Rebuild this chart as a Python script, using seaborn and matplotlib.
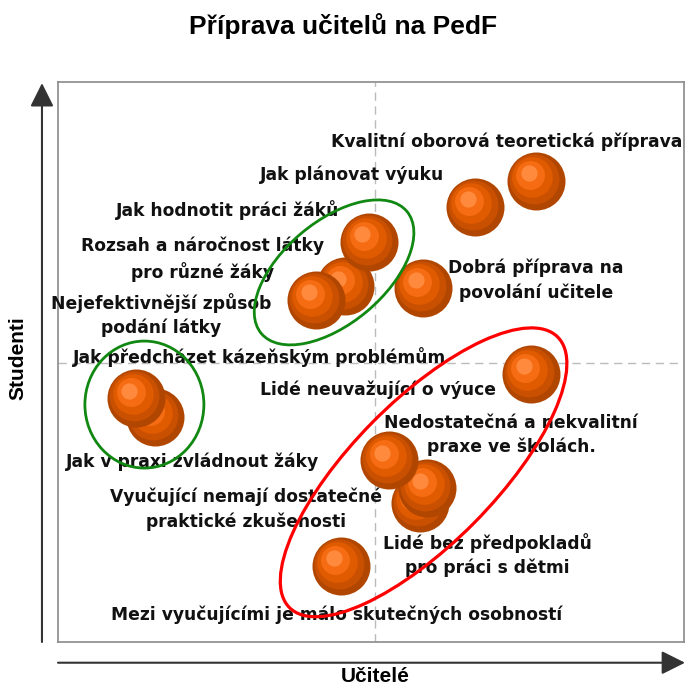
import matplotlib
matplotlib.use("Agg")
import matplotlib.pyplot as plt
from matplotlib.patches import Ellipse
from matplotlib.transforms import ScaledTranslation
import numpy as np
import pandas as pd
import seaborn as sns

# data (scores 0-100, x = teachers, y = students)
labels = [
    "Kvalitní oborová teoretická příprava",
    "Jak plánovat výuku",
    "Jak hodnotit práci žáků",
    "Rozsah a náročnost látky\npro různé žáky",
    "Nejefektivnější způsob\npodání látky",
    "Dobrá příprava na\npovolání učitele",
    "Jak předcházet kázeňským problémům",
    "Jak v praxi zvládnout žáky",
    "Lidé neuvažující o výuce",
    "Nedostatečná a nekvalitní\npraxe ve školách.",
    "Vyučující nemají dostatečné\npraktické zkušenosti",
    "Lidé bez předpokladů\npro práci s dětmi",
    "Mezi vyučujícími je málo skutečných osobností",
]
ucitele = [76.3, 66.6, 49.7, 45.9, 41.2, 58.3, 12.5, 15.5, 75.5, 52.9, 57.8, 59.0, 45.2]
studenti = [82.4, 77.7, 71.5, 63.5, 61.1, 63.3, 43.5, 40.1, 47.9, 32.5, 24.8, 27.5, 13.6]
x_mid = 50.6
y_mid = 49.8

df = pd.DataFrame({"label": labels, "ucitele": ucitele, "studenti": studenti})

# layout: label offsets in pixels, drawing order of the balls
label_offsets = [(-29, 39), (-123, 32), (-141, 32), (-143, 27), (-155, -15),
                 (113, 7), (123, 41), (37, -44), (-153, -16), (122, 25),
                 (-174, -6), (60, -67), (-4, -49)]
draw_order = [7, 6, 10, 11, 3, 2, 4, 0, 1, 5, 8, 9, 12]

# ball layers: (radius fraction, dx px, dy px, colour)
R = 29
layers = [(1.0, 0, 0, "#B04600"), (0.86, -2, 2, "#C95000"),
          (0.70, -3.5, 4, "#E05A00"), (0.50, -5.5, 6, "#F56C12"),
          (0.28, -7, 7.5, "#FF8A3D")]

sns.set_style("white")
plt.rcParams["font.family"] = ["DejaVu Sans"]
plt.rcParams["text.color"] = "black"
plt.rcParams["axes.labelcolor"] = "black"

fig = plt.figure(figsize=(6.85, 6.88), dpi=100)
ax = fig.add_axes([58 / 685, 46 / 688, 626 / 685, 560 / 688])
ax.set_xlim(0, 100)
ax.set_ylim(0, 100)
ax.set_xticks([])
ax.set_yticks([])
for s in ax.spines.values():
    s.set_color("#8A8A8A")
    s.set_linewidth(1.2)

ax.axvline(x_mid, color="#BBBBBB", lw=1, dashes=(6, 4), zorder=1)
ax.axhline(y_mid, color="#BBBBBB", lw=1, dashes=(6, 4), zorder=1)

z = 3
for i in draw_order:
    row = df.iloc[[i]]
    for frac, dx, dy, col in layers:
        d_pt = 2 * R * frac * 72 / 100
        tr = ax.transData + ScaledTranslation(dx / 100, dy / 100, fig.dpi_scale_trans)
        sns.scatterplot(data=row, x="ucitele", y="studenti", s=d_pt ** 2, color=col,
                        linewidth=0, ax=ax, legend=False, transform=tr, zorder=z)
        z += 0.01

for i, lab in enumerate(labels):
    ax.annotate(lab, xy=(ucitele[i], studenti[i]), xytext=label_offsets[i],
                textcoords="offset pixels", ha="center", va="center",
                fontsize=12.3, fontweight="bold", color="#111111",
                linespacing=1.42, zorder=4)

# ellipses: (centre x, centre y, width px, height px, angle, colour, lw)
ellipses = [(44.1, 66.0, 190, 102, 40, "#118811", 2.0),
            (13.8, 42.4, 119, 127, 0, "#118811", 2.0),
            (58.4, 30.3, 381, 143, 45.3, "#FF0000", 2.3)]
for cx, cy, w, h, ang, col, lw in ellipses:
    tr = fig.dpi_scale_trans + ScaledTranslation(cx, cy, ax.transData)
    ax.add_patch(Ellipse((0, 0), w / 100, h / 100, angle=ang, transform=tr,
                         fill=False, edgecolor=col, lw=lw, zorder=5))

arrow = dict(arrowstyle="-|>,head_length=0.9,head_width=0.45", mutation_scale=16,
             color="#333333", lw=1.5, shrinkA=0, shrinkB=0)
ax.annotate("", xy=(-0.0256, 0.998), xytext=(-0.0256, 0.0), xycoords="axes fraction",
            arrowprops=arrow, annotation_clip=False)
ax.annotate("", xy=(1.0016, -0.037), xytext=(0.0, -0.037), xycoords="axes fraction",
            arrowprops=arrow, annotation_clip=False)

ax.set_xlabel("Učitelé", fontsize=15, fontweight="bold", family="Liberation Sans",
              visible=True, color="black")
ax.set_ylabel("Studenti", fontsize=15, fontweight="bold", family="Liberation Sans",
              visible=True, color="black")
ax.xaxis.set_label_coords(0.506, -0.0625)
ax.yaxis.set_label_coords(-0.064, 0.507)
ax.xaxis.label.set_va("center")
ax.yaxis.label.set_va("center")

fig.text(343 / 685, 1 - 26 / 688, "Příprava učitelů na PedF", ha="center", va="center",
         fontsize=19, fontweight="bold", family="Liberation Sans", color="black")

fig.savefig("out.png", dpi=100)
